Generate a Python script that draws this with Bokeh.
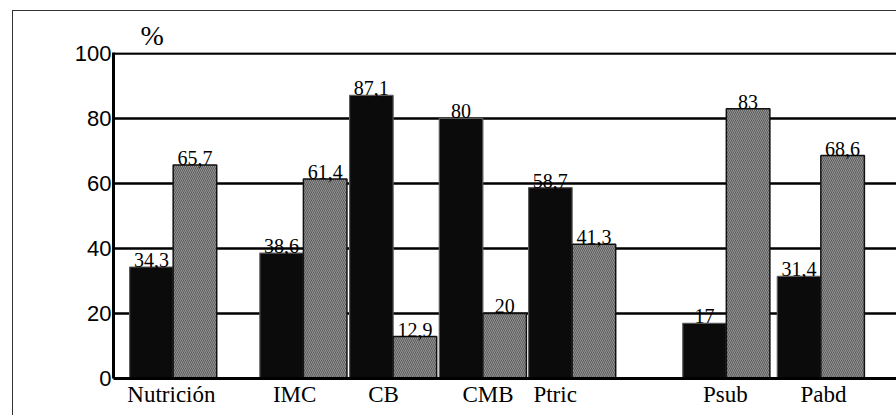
from bokeh.plotting import figure
from bokeh.models import ColumnDataSource, Range1d, FixedTicker, Title
from bokeh.core.properties import value
from bokeh.embed import file_html
from bokeh.resources import INLINE

# ---- data ----
categories = ["Nutrición", "IMC", "CB", "CMB", "Ptric", "Psub", "Pabd"]
black_values = [34.3, 38.6, 87.1, 80, 58.7, 17, 31.4]
gray_values = [65.7, 61.4, 12.9, 20, 41.3, 83, 68.6]
group_centers = [1.37, 4.36, 6.42, 8.48, 10.53, 14.07, 16.24]
label_positions = [1.33, 4.16, 6.20, 8.60, 10.14, 14.05, 16.30]
y_ticks = [0, 20, 40, 60, 80, 100]
grid_ticks = [20, 40, 60, 80, 100]


def fmt(v):
    return f"{v:g}".replace(".", ",")


black_src = ColumnDataSource(dict(
    x=[c - 0.5 for c in group_centers],
    top=black_values,
    label=[fmt(v) for v in black_values],
))
gray_src = ColumnDataSource(dict(
    x=[c + 0.5 for c in group_centers],
    top=gray_values,
    label=[fmt(v) for v in gray_values],
))

p = figure(
    width=884, height=405,
    x_range=Range1d(0, 18), y_range=Range1d(0, 100.3),
    output_backend="svg", toolbar_location=None,
    min_border_left=100, min_border_right=0,
    min_border_top=41, min_border_bottom=38,
)
p.margin = (10, 0, 0, 12)
p.styles = {"border-left": "1.5px solid #333333", "border-top": "1.5px solid #333333"}
p.outline_line_color = None
p.background_fill_color = None
p.border_fill_color = None

# "%" on top of the value axis
p.title = Title(text="%", align="left", offset=27, standoff=3,
                text_font="Liberation Serif", text_font_size="28px",
                text_font_style="normal", text_color="black")

# grid
p.xgrid.visible = False
p.ygrid.ticker = FixedTicker(ticks=grid_ticks)
p.ygrid.grid_line_color = "black"
p.ygrid.grid_line_width = 2.5

# bars
p.vbar(x="x", top="top", width=1, source=black_src,
       fill_color="#0b0b0b", line_color="#5a5a5a", line_width=1.2)
p.vbar(x="x", top="top", width=1, source=gray_src,
       fill_color="#a8a8a8", line_color="#111111", line_width=1.5,
       hatch_pattern="left_diagonal_line", hatch_color="#2a2a2a",
       hatch_scale=4, hatch_weight=1.2, hatch_alpha=0.6)

# value labels
for src in (black_src, gray_src):
    p.text(x="x", y="top", text="label", source=src,
           text_font=value("Liberation Serif"), text_font_size="20px",
           text_align="center", text_baseline="bottom", y_offset=0,
           text_color="black")

# axes
xa = p.xaxis[0]
xa.ticker = FixedTicker(ticks=label_positions)
xa.major_label_overrides = {pos: cat for pos, cat in zip(label_positions, categories)}
xa.major_label_text_font = "Liberation Serif"
xa.major_label_text_font_size = "23px"
xa.major_label_text_color = "black"
xa.major_label_standoff = 3
xa.major_tick_in = 0
xa.major_tick_out = 0
xa.minor_tick_line_color = None
xa.axis_line_width = 3
xa.axis_line_color = "black"

ya = p.yaxis[0]
ya.ticker = FixedTicker(ticks=y_ticks)
ya.major_label_text_font = "Liberation Sans"
ya.major_label_text_font_size = "22px"
ya.major_label_text_color = "black"
ya.major_label_standoff = 2
ya.major_tick_in = 0
ya.major_tick_out = 0
ya.minor_tick_line_color = None
ya.axis_line_width = 3
ya.axis_line_color = "black"

open("out.html", "w").write(file_html(p, INLINE))
